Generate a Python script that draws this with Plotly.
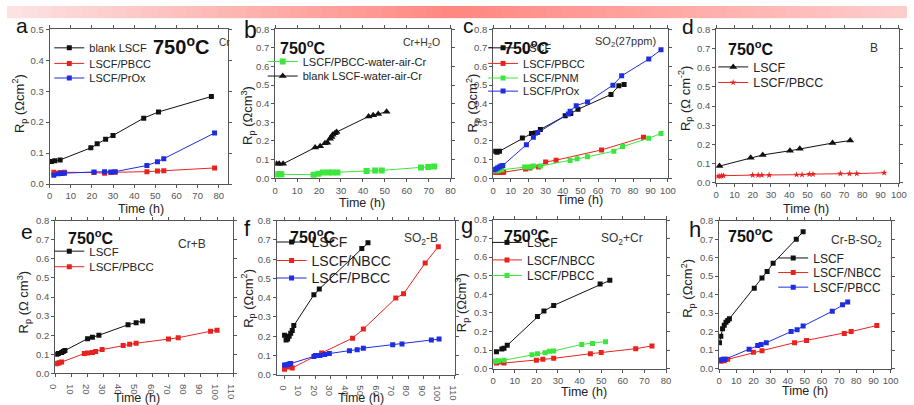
import plotly.graph_objects as go

W, H = 914, 405

# ---------------- data ----------------
# (a) Cr
a_blank_x = [0.8, 2.5, 5, 19.5, 22.5, 26.5, 30, 44.5, 51.5, 76.5]
a_blank_y = [0.073, 0.075, 0.078, 0.117, 0.13, 0.145, 0.157, 0.213, 0.233, 0.283]
a_pbcc_x = [2, 5, 7, 21, 26, 29, 31, 46, 51, 54, 78]
a_pbcc_y = [0.038, 0.037, 0.038, 0.037, 0.035, 0.037, 0.038, 0.040, 0.042, 0.043, 0.052]
a_prox_x = [2, 4, 6, 7, 21, 26, 29, 31, 46, 51, 54, 78]
a_prox_y = [0.028, 0.033, 0.034, 0.035, 0.039, 0.04, 0.039, 0.04, 0.06, 0.072, 0.082, 0.165]

# (b) Cr+H2O
b_pbcc_x = [0.6, 1.8, 2.8, 17.5, 19.7, 21.7, 24.2, 26.2, 28.4, 41.7, 45.6, 48.6, 66.5, 69.8, 72.5]
b_pbcc_y = [0.021, 0.021, 0.021, 0.019, 0.024, 0.03, 0.03, 0.031, 0.031, 0.038, 0.041, 0.042, 0.058, 0.06, 0.063]
b_blank_x = [0.6, 1.8, 3.6, 18.2, 20.5, 22.7, 23.8, 25, 25.7, 26.2, 27.2, 28, 42.6, 44.7, 47, 50.8]
b_blank_y = [0.077, 0.077, 0.077, 0.165, 0.172, 0.188, 0.19, 0.212, 0.221, 0.233, 0.242, 0.248, 0.332, 0.338, 0.345, 0.357]

# (c) SO2 (27 ppm)
c_lscf_x = [0.9, 2.2, 3.6, 16.7, 21.9, 24.2, 27, 41.2, 44.4, 48.5, 67.4, 71.9, 74.9]
c_lscf_y = [0.145, 0.14, 0.145, 0.216, 0.24, 0.243, 0.262, 0.335, 0.348, 0.37, 0.45, 0.497, 0.504]
c_pbcc_x = [1, 2, 3, 4, 5, 6, 18.5, 21, 26, 30, 36, 62, 86]
c_pbcc_y = [0.03, 0.03, 0.03, 0.03, 0.032, 0.032, 0.05, 0.055, 0.06, 0.087, 0.097, 0.152, 0.22]
c_pnm_x = [1, 2, 3, 5, 18, 20, 22, 23, 27, 44, 48, 54, 69, 74, 89, 96]
c_pnm_y = [0.04, 0.04, 0.042, 0.045, 0.06, 0.06, 0.062, 0.065, 0.065, 0.095, 0.105, 0.115, 0.145, 0.17, 0.215, 0.24]
c_prox_x = [0.5, 1.5, 2.5, 3.5, 4.5, 5.5, 19, 23, 25.5, 43, 44, 47.5, 54, 68.5, 73.5, 89, 96]
c_prox_y = [0.045, 0.05, 0.055, 0.06, 0.065, 0.068, 0.18, 0.22, 0.245, 0.345, 0.36, 0.39, 0.41, 0.50, 0.55, 0.64, 0.69]

# (d) B
d_lscf_x = [1.8, 18.9, 25.5, 40.4, 45.8, 63.7, 73.4]
d_lscf_y = [0.087, 0.13, 0.145, 0.167, 0.177, 0.207, 0.22]
d_pbcc_x = [1, 2, 3, 4, 20, 23, 25, 29, 44, 47, 51, 53, 68, 73, 77, 92]
d_pbcc_y = [0.034, 0.034, 0.036, 0.037, 0.04, 0.04, 0.04, 0.04, 0.042, 0.042, 0.045, 0.045, 0.048, 0.048, 0.048, 0.052]

# (e) Cr+B
e_lscf_x = [1, 2, 4, 5, 6, 20, 23, 27, 45, 50, 54]
e_lscf_y = [0.1, 0.105, 0.11, 0.115, 0.12, 0.182, 0.19, 0.2, 0.255, 0.265, 0.275]
e_pbcc_x = [0.6, 1.6, 2.6, 4, 18, 20, 23, 25, 29, 42, 46, 50, 70, 76, 96, 100]
e_pbcc_y = [0.051, 0.053, 0.056, 0.06, 0.104, 0.107, 0.11, 0.115, 0.125, 0.146, 0.153, 0.158, 0.18, 0.187, 0.221, 0.226]

# (f) SO2-B
f_lscf_x = [0, 1, 2, 3, 4, 5, 6, 19, 22.5, 50, 54]
f_lscf_y = [0.205, 0.18, 0.185, 0.2, 0.215, 0.23, 0.255, 0.415, 0.445, 0.655, 0.685]
f_nbcc_x = [0, 3, 5, 24, 44, 51, 72, 77, 91, 99.5]
f_nbcc_y = [0.028, 0.04, 0.035, 0.113, 0.19, 0.237, 0.398, 0.42, 0.58, 0.665]
f_pbcc_x = [0, 1.5, 3, 4, 19, 20, 23, 26, 29, 42, 47, 51, 70, 76, 95, 100]
f_pbcc_y = [0.05, 0.052, 0.055, 0.058, 0.095, 0.1, 0.1, 0.105, 0.11, 0.125, 0.13, 0.138, 0.155, 0.16, 0.18, 0.185]

# (g) SO2+Cr
g_lscf_x = [1.5, 4, 5, 6.5, 20.5, 23.5, 28, 49.5, 54]
g_lscf_y = [0.09, 0.105, 0.11, 0.125, 0.28, 0.31, 0.34, 0.455, 0.475]
g_nbcc_x = [1.5, 3, 5, 20, 23, 28, 45, 50, 66, 73.5]
g_nbcc_y = [0.03, 0.035, 0.03, 0.045, 0.05, 0.055, 0.08, 0.087, 0.107, 0.122]
g_pbcc_x = [0.5, 1, 2.5, 5, 18, 20.5, 24, 26, 28, 41, 46, 52]
g_pbcc_y = [0.04, 0.04, 0.042, 0.045, 0.075, 0.08, 0.085, 0.093, 0.095, 0.13, 0.135, 0.145]

# (h) Cr-B-SO2
h_lscf_x = [0.2, 1, 2, 3, 4, 5, 6, 20.5, 25, 28, 31.5, 45, 49]
h_lscf_y = [0.14, 0.175, 0.215, 0.235, 0.25, 0.26, 0.27, 0.435, 0.49, 0.525, 0.57, 0.70, 0.74]
h_nbcc_x = [1, 3, 5, 20, 25, 44, 51, 73, 77, 92]
h_nbcc_y = [0.04, 0.042, 0.05, 0.088, 0.097, 0.14, 0.152, 0.19, 0.2, 0.233]
h_pbcc_x = [0.5, 1.5, 2.5, 3.5, 17.5, 22.5, 24.5, 27.5, 42, 45.5, 49, 66, 72, 75]
h_pbcc_y = [0.045, 0.048, 0.05, 0.05, 0.105, 0.125, 0.13, 0.14, 0.2, 0.21, 0.23, 0.31, 0.345, 0.36]

panel_letters = ["a", "b", "c", "d", "e", "f", "g", "h"]
conditions = ["Cr", "Cr+H<sub>2</sub>O", "SO<sub>2</sub>(27ppm)", "B", "Cr+B",
              "SO<sub>2</sub>-B", "SO<sub>2</sub>+Cr", "Cr-B-SO<sub>2</sub>"]
y_titles = ["R<sub>p</sub> (\u03A9cm<sup>2</sup>)", "R<sub>p</sub> (\u03A9cm<sup>3</sup>)",
            "R<sub>p</sub> (\u03A9cm<sup>2</sup>)", "R<sub>p</sub> (\u03A9 cm<sup>-2</sup>)",
            "R<sub>p</sub> (\u03A9 cm<sup>3</sup>)", "R<sub>p</sub> (\u03A9cm<sup>2</sup>)",
            "R<sub>p</sub> (\u03A9cm<sup>3</sup>)", "R<sub>p</sub> (\u03A9cm<sup>2</sup>)"]
x_title = "Time (h)"
temp_label = "<b>750<sup>o</sup>C</b>"

# ---------------- styling / layout helpers ----------------
BLACK, RED, BLUE, GREEN = "#111111", "#e8231f", "#1f2de0", "#3de63d"
FONT = "Arial, Liberation Sans, sans-serif"
TICKFONT = "Liberation Sans Narrow, Arial Narrow, Liberation Sans, sans-serif"


def fx(p):
    return p / W


def fy(p):
    return 1 - p / H


geom = [
    dict(xd=(43.3, 225), yd=(24, 183), xr=[0, 84.5], yr=[0, 0.5]),
    dict(xd=(272.7, 451), yd=(24, 177), xr=[0, 80], yr=[0, 0.8]),
    dict(xd=(494.3, 672), yd=(24, 177), xr=[0, 100], yr=[0, 0.8]),
    dict(xd=(721, 906.7), yd=(24, 181.7), xr=[0, 100], yr=[0, 0.8]),
    dict(xd=(49, 230), yd=(220.7, 377.7), xr=[0, 110], yr=[0, 0.8]),
    dict(xd=(274.3, 455), yd=(220.7, 379), xr=[-5, 110], yr=[0, 0.8]),
    dict(xd=(494.3, 670), yd=(220, 372.7), xr=[0, 80], yr=[0, 0.8]),
    dict(xd=(724, 898.3), yd=(220.7, 372.7), xr=[0, 100], yr=[0, 0.8]),
]

series = [
    [(a_blank_x, a_blank_y, "blank LSCF", BLACK, "square", 5),
     (a_pbcc_x, a_pbcc_y, "LSCF/PBCC", RED, "square", 5),
     (a_prox_x, a_prox_y, "LSCF/PrOx", BLUE, "square", 5)],
    [(b_pbcc_x, b_pbcc_y, "LSCF/PBCC-water-air-Cr", GREEN, "square", 6),
     (b_blank_x, b_blank_y, "blank LSCF-water-air-Cr", BLACK, "triangle-up", 7)],
    [(c_lscf_x, c_lscf_y, "LSCF", BLACK, "square", 5),
     (c_pbcc_x, c_pbcc_y, "LSCF/PBCC", RED, "square", 5),
     (c_pnm_x, c_pnm_y, "LSCF/PNM", GREEN, "square", 5),
     (c_prox_x, c_prox_y, "LSCF/PrOx", BLUE, "square", 5)],
    [(d_lscf_x, d_lscf_y, "LSCF", BLACK, "triangle-up", 7),
     (d_pbcc_x, d_pbcc_y, "LSCF/PBCC", RED, "star", 5)],
    [(e_lscf_x, e_lscf_y, "LSCF", BLACK, "square", 5),
     (e_pbcc_x, e_pbcc_y, "LSCF/PBCC", RED, "square", 5)],
    [(f_lscf_x, f_lscf_y, "LSCF", BLACK, "square", 5),
     (f_nbcc_x, f_nbcc_y, "LSCF/NBCC", RED, "square", 5),
     (f_pbcc_x, f_pbcc_y, "LSCF/PBCC", BLUE, "square", 5)],
    [(g_lscf_x, g_lscf_y, "LSCF", BLACK, "square", 5),
     (g_nbcc_x, g_nbcc_y, "LSCF/NBCC", RED, "square", 5),
     (g_pbcc_x, g_pbcc_y, "LSCF/PBCC", GREEN, "square", 5)],
    [(h_lscf_x, h_lscf_y, "LSCF", BLACK, "square", 5),
     (h_nbcc_x, h_nbcc_y, "LSCF/NBCC", RED, "square", 5),
     (h_pbcc_x, h_pbcc_y, "LSCF/PBCC", BLUE, "square", 5)],
]

legend_pos = [
    [(43, 87), (59, 87), (74, 87)], 11,
    [(57, 304), (72, 304)], 11,
    [(43, 528), (59, 528), (74, 528), (87.5, 528)], 11,
    [(63, 762), (79, 762)], 12.5,
    [(252, 87), (268, 87)], 11.5,
    [(243, 313), (262, 313), (280, 313)], 14,
    [(243, 532), (261, 532), (277, 532)], 12,
    [(259, 823), (274, 823), (289, 823)], 12,
]
LEG_TEXT_OFFSET = 44

letter_pos = [(15, 20.5, 21), (248, 25, 23), (469, 20.5, 21), (692, 21.5, 21),
              (20, 231.5, 21), (245, 229, 22), (468, 226, 22), (699, 230, 22)]
temp_pos = [(146, 41, 20), (276, 42, 16), (503, 42, 16), (731, 43, 16),
            (60, 237, 16), (286, 236, 16), (503, 235, 16), (731, 235, 16)]
cond_pos = [(214, 38, 10), (401, 38, 10.5), (596, 37, 11), (875, 43, 12),
            (172, 245, 12), (402, 239, 12), (602, 239, 12), (836, 242, 12)]
ytitle_pos = [(13, 100), (245, 112), (474, 100), (690, 95),
              (17, 305), (245, 300), (462, 305), (692, 290)]
xtitle_pos = [(136, 209), (361, 203), (583, 199), (812, 209),
              (132, 402.5), (360, 402.5), (587, 397), (811, 396)]

fig = go.Figure()
layout = dict(
    width=W, height=H, margin=dict(l=0, r=0, t=0, b=0),
    paper_bgcolor="white", plot_bgcolor="white",
    font=dict(family=FONT, color="#222"),
)
annotations = []
shapes = []

leg_counter = 0
for i, g in enumerate(geom):
    sfx = "" if i == 0 else str(i + 1)
    xa, ya = "x" + sfx, "y" + sfx
    axis_common = dict(
        showline=True, linecolor="#555", linewidth=1, mirror="ticks",
        ticks="outside", ticklen=3, tickcolor="#555", showgrid=False, zeroline=False,
        tickfont=dict(family=TICKFONT, size=9.5, color="#555"),
    )
    layout["xaxis" + sfx] = dict(
        domain=[fx(g["xd"][0]), fx(g["xd"][1])], range=g["xr"], anchor=ya,
        dtick=10, tick0=0, **axis_common)
    layout["yaxis" + sfx] = dict(
        domain=[fy(g["yd"][1]), fy(g["yd"][0])], range=g["yr"], anchor=xa,
        dtick=0.1, tick0=0, tickformat=".1f", **axis_common)

    entries = legend_pos[2 * i]
    lfs = legend_pos[2 * i + 1]
    for (sx, sy, name, col, sym, ms), (cy, tx) in zip(series[i], entries):
        leg_counter += 1
        lid = "legend" if leg_counter == 1 else "legend%d" % leg_counter
        fig.add_trace(go.Scatter(
            x=sx, y=sy, name=name, mode="lines+markers",
            line=dict(color=col, width=1),
            marker=dict(color=col, symbol=sym, size=ms, line=dict(width=0)),
            xaxis=xa, yaxis=ya, legend=lid, showlegend=True,
        ))
        layout[lid] = dict(
            x=fx(tx - LEG_TEXT_OFFSET), y=fy(cy), xanchor="left", yanchor="middle",
            bgcolor="rgba(0,0,0,0)", borderwidth=0,
            font=dict(family=FONT, size=lfs, color="#222"),
        )

    lx, ly, ls = letter_pos[i]
    annotations.append(dict(text=panel_letters[i], x=fx(lx), y=fy(ly), xref="paper", yref="paper",
                            showarrow=False, xanchor="center", yanchor="middle",
                            font=dict(family=FONT, size=ls, color="#111")))
    tx_, ty_, ts = temp_pos[i]
    annotations.append(dict(text=temp_label, x=fx(tx_), y=fy(ty_), xref="paper", yref="paper",
                            showarrow=False, xanchor="left", yanchor="middle",
                            font=dict(family=FONT, size=ts, color="#111")))
    cx, cy2, cs = cond_pos[i]
    annotations.append(dict(text=conditions[i], x=fx(cx), y=fy(cy2), xref="paper", yref="paper",
                            showarrow=False, xanchor="left", yanchor="middle",
                            font=dict(family=FONT, size=cs, color="#333")))
    yx, yy = ytitle_pos[i]
    annotations.append(dict(text=y_titles[i], x=fx(yx), y=fy(yy), xref="paper", yref="paper",
                            showarrow=False, xanchor="center", yanchor="middle", textangle=-90,
                            font=dict(family=FONT, size=13, color="#222")))
    xx, xy = xtitle_pos[i]
    annotations.append(dict(text=x_title, x=fx(xx), y=fy(xy), xref="paper", yref="paper",
                            showarrow=False, xanchor="center", yanchor="middle",
                            font=dict(family=TICKFONT, size=12.5, color="#222")))

# decorative pink gradient band at the top
stops = [(0, (252, 228, 228)), (455, (255, 135, 128)), (914, (255, 205, 205))]
nseg = 60
for k in range(nseg):
    x0 = W * k / nseg
    x1 = W * (k + 1) / nseg
    xm = (x0 + x1) / 2
    for (p0, c0), (p1, c1) in zip(stops[:-1], stops[1:]):
        if p0 <= xm <= p1:
            t = (xm - p0) / (p1 - p0)
            c = tuple(int(round(c0[j] + (c1[j] - c0[j]) * t)) for j in range(3))
            break
    shapes.append(dict(type="rect", xref="paper", yref="paper",
                       x0=fx(x0), x1=fx(x1) + 0.001, y0=fy(12.5), y1=1,
                       fillcolor="rgb(%d,%d,%d)" % c, line=dict(width=0), layer="below"))

layout["annotations"] = annotations
layout["shapes"] = shapes
fig.update_layout(**layout)
fig.write_html("out.html",
               config={"displayModeBar": False},
               post_script="document.body.style.margin='0';document.body.style.overflow='hidden';")
